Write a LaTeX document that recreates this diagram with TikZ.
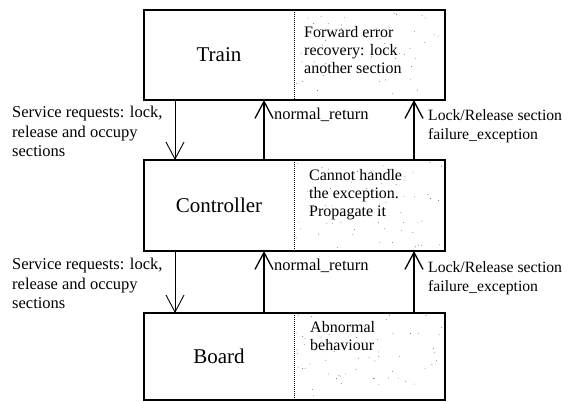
\documentclass[tikz,border=0pt]{standalone}
\usepackage{fontspec}
\setmainfont{Liberation Serif}
\usetikzlibrary{arrows.meta}
\begin{document}
\begin{tikzpicture}[x=1pt,y=-1pt,
  >={Straight Barb[length=17pt,width=18pt]},
  unitpart/.style={minimum width=150pt,minimum height=#1,inner sep=0pt,outer sep=0pt,
    anchor=north west,font=\fontsize{21}{24}\selectfont},
  notepart/.style={minimum width=151pt,minimum height=#1,inner sep=0pt,outer sep=0pt,
    anchor=north west},
  frame/.style={line width=1.1pt},
  divider/.style={line width=1pt,densely dotted},
  notetext/.style={anchor=north west,inner sep=0pt,align=left,
    font=\fontsize{16}{18}\selectfont},
  lbl/.style={anchor=north west,inner sep=0pt,align=left,
    font=\fontsize{16.5}{19.5}\selectfont},
  lblR/.style={lbl,font=\fontsize{15.7}{19.5}\selectfont},
  req/.style={->,line width=0.9pt},
  ret/.style={->,line width=1.3pt}]

\useasboundingbox (0,0) rectangle (569,401);

% the three units, each a named part plus a stippled note area
\node[unitpart=90pt] (train) at (144,10) {Train};
\node[notepart=90pt] (trainX) at (train.north east) {};
\node[unitpart=91pt] (ctrl) at (144,160) {Controller};
\node[notepart=91pt] (ctrlX) at (ctrl.north east) {};
\node[unitpart=87pt] (board) at (144,313) {Board};
\node[notepart=87pt] (boardX) at (board.north east) {};

% stipple inside the note areas
\pgfmathsetseed{11}
\foreach \top/\h in {10/90,160/91,313/87}{
  \foreach \i in {1,...,60}{
    \pgfmathsetmacro{\px}{296+147*rnd}
    \pgfmathsetmacro{\py}{\top+2+(\h-4)*rnd}
    \fill[black!60] (\px,\py) circle (0.45pt);
  }
}

% frames and dotted dividers
\foreach \u in {train,ctrl,board}{
  \draw[frame] (\u.north west) rectangle (\u X.south east);
  \draw[divider] (\u.north east) -- (\u.south east);
}

% note texts
\node[notetext] (trainN) at ([shift={(10,16)}]trainX.north west)
  {Forward error\\recovery: lock\\another section};
\node[notetext] (ctrlN) at ([shift={(15,9)}]ctrlX.north west)
  {Cannot handle\\the exception.\\Propagate it};
\node[notetext] (boardN) at ([shift={(16,8)}]boardX.north west)
  {Abnormal\\behaviour};

% anchor points of the connectors
\coordinate (reqA) at ([xshift=31pt]train.south west);
\coordinate (retA) at ([xshift=120pt]train.south west);
\coordinate (excA) at ([xshift=120pt]trainX.south west);
\coordinate (reqB) at ([xshift=31pt]ctrl.south west);
\coordinate (retB) at ([xshift=120pt]ctrl.south west);
\coordinate (excB) at ([xshift=120pt]ctrlX.south west);

% Train <-> Controller
\draw[req] (reqA) -- (reqA |- ctrl.north);
\draw[ret] (retA |- ctrl.north) -- (retA);
\draw[ret] (excA |- ctrlX.north) -- (excA);
% Controller <-> Board
\draw[req] (reqB) -- (reqB |- board.north);
\draw[ret] (retB |- board.north) -- (retB);
\draw[ret] (excB |- boardX.north) -- (excB);

% connector labels
\node[lbl] (reqL1) at (12,106) {Service requests: lock,\\release and occupy\\sections};
\node[lbl] (retL1) at (274,108) {normal\_return};
\node[lblR] (excL1) at (428,109) {Lock/Release section\\failure\_exception};
\node[lbl] (reqL2) at (12,258) {Service requests: lock,\\release and occupy\\sections};
\node[lbl] (retL2) at (274,259) {normal\_return};
\node[lblR] (excL2) at (428,261) {Lock/Release section\\failure\_exception};
\end{tikzpicture}
\end{document}
